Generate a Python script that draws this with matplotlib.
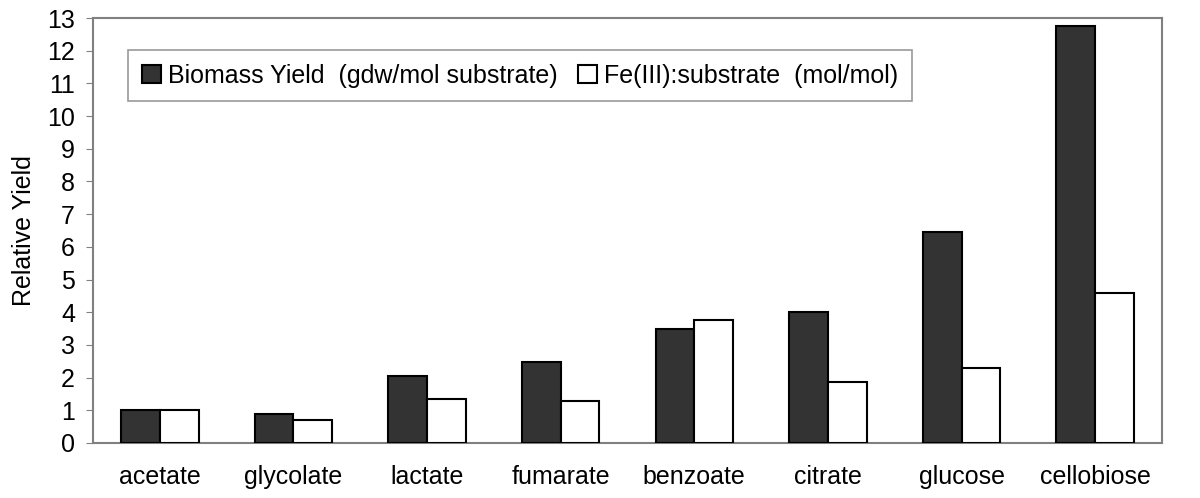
import numpy as np
import matplotlib.pyplot as plt

plt.rcParams['font.family'] = ['Liberation Sans', 'DejaVu Sans']

substrates = ["acetate", "glycolate", "lactate", "fumarate",
              "benzoate", "citrate", "glucose", "cellobiose"]
biomassYield = [1.0, 0.88, 2.05, 2.47, 3.48, 4.02, 6.44, 12.76]
feRatio = [1.0, 0.69, 1.34, 1.28, 3.77, 1.87, 2.28, 4.60]
yTicks = list(range(0, 14))

fig = plt.figure(figsize=(12, 4.98), dpi=100)
ax = fig.add_axes([93/1200, 1 - 443/498, (1162-93)/1200, (443-18)/498])

x = np.arange(len(substrates))
width = 0.29
frameColor = "#808080"

ax.bar(x - width/2, biomassYield, width, color="#333333", edgecolor="black",
       linewidth=1.5, label="Biomass Yield  (gdw/mol substrate)", zorder=3)
ax.bar(x + width/2, feRatio, width, color="white", edgecolor="black",
       linewidth=1.5, label="Fe(III):substrate  (mol/mol)", zorder=3)

ax.set_xlim(-0.5, len(substrates) - 0.5)
ax.set_ylim(0, 13)
ax.set_yticks(yTicks)
ax.set_xticks(x)
ax.set_xticklabels(substrates, fontsize=18)
ax.tick_params(axis="x", length=0, pad=16)
ax.tick_params(axis="y", labelsize=18, length=5, color=frameColor, pad=8)
ax.set_ylabel("Relative Yield", fontsize=18, labelpad=8)

for sp in ax.spines.values():
  sp.set_color(frameColor)
  sp.set_linewidth(1.5)

leg = ax.legend(loc="upper left", bbox_to_anchor=(0.033, 0.925), ncol=2,
                fontsize=18, frameon=True, fancybox=False, handlelength=0.75,
                handleheight=0.75, handletextpad=0.3, columnspacing=0.8,
                borderpad=0.55, borderaxespad=0)
leg.get_frame().set_edgecolor(frameColor)
leg.get_frame().set_linewidth(1.2)

plt.savefig("out.png", dpi=100)
